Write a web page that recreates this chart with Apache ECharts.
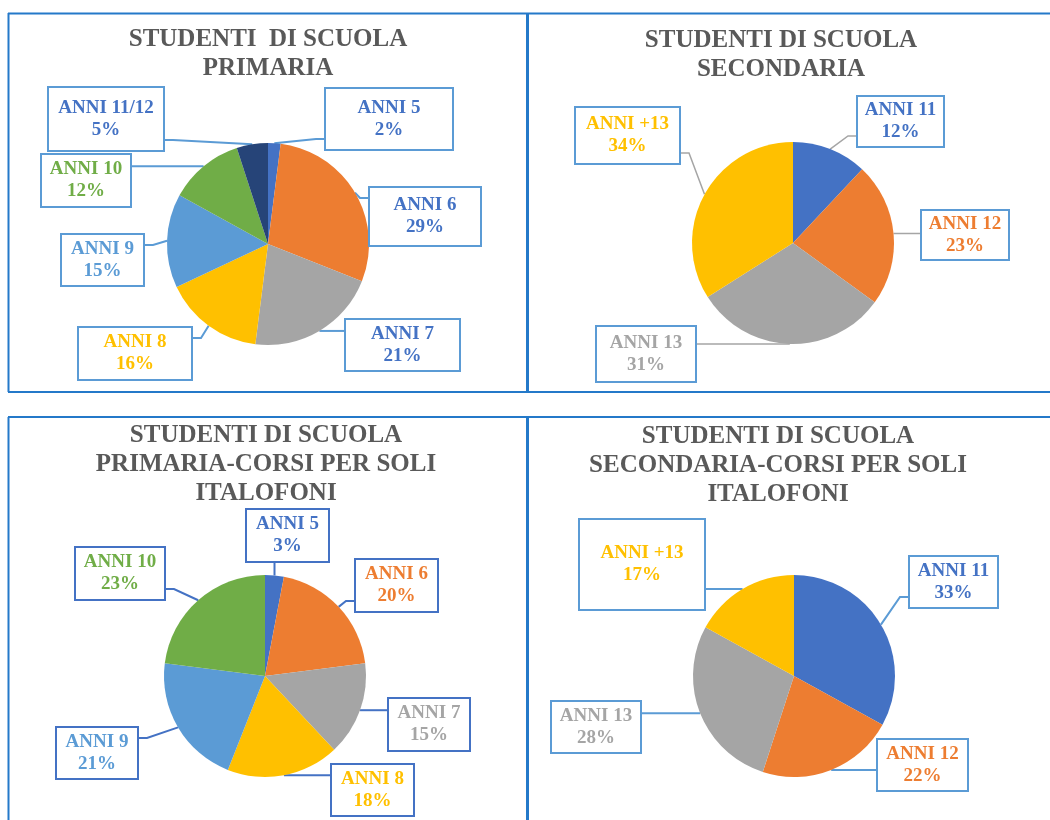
<!DOCTYPE html>
<html>
<head>
<meta charset="utf-8">
<title>Studenti di scuola</title>
<script src="https://cdn.jsdelivr.net/npm/echarts@6/dist/echarts.min.js"></script>
<style>
  html, body { margin: 0; padding: 0; background: #fff; }
  #main { width: 1050px; height: 820px; }
</style>
</head>
<body>
<div id="main"></div>
<script>
// dati (percentuali)
var primariaNomi = ['ANNI 5', 'ANNI 6', 'ANNI 7', 'ANNI 8', 'ANNI 9', 'ANNI 10', 'ANNI 11/12']
var primariaValori = [2, 29, 21, 16, 15, 12, 5]

var secondariaNomi = ['ANNI 11', 'ANNI 12', 'ANNI 13', 'ANNI +13']
var secondariaValori = [12, 23, 31, 34]

var primariaItaNomi = ['ANNI 5', 'ANNI 6', 'ANNI 7', 'ANNI 8', 'ANNI 9', 'ANNI 10']
var primariaItaValori = [3, 20, 15, 18, 21, 23]

var secondariaItaNomi = ['ANNI 11', 'ANNI 12', 'ANNI 13', 'ANNI +13']
var secondariaItaValori = [33, 22, 28, 17]

// colori
var coloriPrimaria = ['#4472C4', '#ED7D31', '#A5A5A5', '#FFC000', '#5B9BD5', '#70AD47', '#264478']
var coloriSecondaria = ['#4472C4', '#ED7D31', '#A5A5A5', '#FFC000']
var testoPrimaria = ['#4472C4', '#4472C4', '#4472C4', '#FFC000', '#5B9BD5', '#70AD47', '#4472C4']

// riquadri delle etichette [left, top, right, bottom]
var boxPrimaria = [[326, 89, 452, 149], [370, 188, 480, 245], [346, 320, 459, 370], [79, 328, 191, 379],
  [62, 235, 143, 285], [42, 155, 130, 206], [49, 88, 163, 150]]
var boxSecondaria = [[858, 97, 943, 146], [922, 211, 1008, 259], [597, 327, 695, 381], [576, 108, 679, 163]]
var boxPrimariaIta = [[247, 510, 328, 561], [356, 560, 437, 611], [389, 699, 469, 750], [332, 765, 413, 815],
  [57, 728, 137, 778], [76, 548, 164, 599]]
var boxSecondariaIta = [[910, 557, 997, 607], [878, 740, 967, 790], [552, 702, 640, 752], [580, 520, 704, 609]]

var FONT = 'Liberation Serif'
var LINE_H = 22

function buildData(nomi, valori, coloriTesto, boxes, bordo) {
  return nomi.map(function(n, i) {
    var b = boxes[i]
    var h = b[3] - b[1]
    var pad = Math.max(0, (h - 2 * LINE_H) / 2)
    return {
      name: n,
      value: valori[i],
      label: {
        color: coloriTesto[i],
        width: b[2] - b[0],
        padding: [pad, 0, pad, 0],
        borderColor: bordo
      }
    }
  })
}

function makeLayout(boxes) {
  return function(params) {
    var b = boxes[params.dataIndex]
    var out = {
      x: (b[0] + b[2]) / 2,
      y: (b[1] + b[3]) / 2,
      align: 'center',
      verticalAlign: 'middle'
    }
    var pts = params.labelLinePoints
    if (pts && pts.length) {
      var s = pts[0]
      var end, elbow
      if (s[0] < b[0]) {
        end = [b[0], Math.min(Math.max(s[1], b[1] + 10), b[3] - 10)]
        elbow = [b[0] - 10, end[1]]
      } else if (s[0] > b[2]) {
        end = [b[2], Math.min(Math.max(s[1], b[1] + 10), b[3] - 10)]
        elbow = [b[2] + 10, end[1]]
      } else if (s[1] < b[1]) {
        end = [Math.min(Math.max(s[0], b[0] + 10), b[2] - 10), b[1]]
        elbow = [end[0], b[1] - 8]
      } else {
        end = [Math.min(Math.max(s[0], b[0] + 10), b[2] - 10), b[3]]
        elbow = [end[0], b[3] + 8]
      }
      out.labelLinePoints = [s, elbow, end]
    }
    return out
  }
}

function pieSeries(center, data, colori, boxes, lineColor, lineWidth) {
  return {
    type: 'pie',
    center: center,
    radius: 101,
    startAngle: 90,
    clockwise: true,
    avoidLabelOverlap: false,
    color: colori,
    data: data,
    itemStyle: { borderWidth: 0 },
    label: {
      show: true,
      position: 'outside',
      formatter: function(p) { return p.name + '\n' + p.value + '%' },
      fontFamily: FONT,
      fontWeight: 'bold',
      fontSize: 19,
      lineHeight: LINE_H,
      backgroundColor: '#fff',
      borderWidth: 2
    },
    labelLine: {
      show: true,
      length: 10,
      length2: 10,
      lineStyle: { color: lineColor, width: lineWidth }
    },
    labelLayout: makeLayout(boxes),
    emphasis: { disabled: true },
    animation: false
  }
}

function titolo(testo, x, y) {
  return {
    text: testo,
    left: x,
    top: y,
    textAlign: 'center',
    padding: 0,
    textStyle: {
      fontFamily: FONT,
      fontWeight: 'bold',
      fontSize: 25,
      lineHeight: 29,
      color: '#595959'
    }
  }
}

var BORDER = '#2479C9'
function linea(x1, y1, x2, y2, w) {
  return {
    type: 'line',
    shape: { x1: x1, y1: y1, x2: x2, y2: y2 },
    style: { stroke: BORDER, lineWidth: w || 2 }
  }
}

var chart = echarts.init(document.getElementById('main'))
chart.setOption({
  backgroundColor: '#fff',
  title: [
    titolo('STUDENTI  DI SCUOLA\nPRIMARIA', 268, 25),
    titolo('STUDENTI DI SCUOLA\nSECONDARIA', 781, 26),
    titolo('STUDENTI DI SCUOLA\nPRIMARIA-CORSI PER SOLI\nITALOFONI', 266, 421),
    titolo('STUDENTI DI SCUOLA\nSECONDARIA-CORSI PER SOLI\nITALOFONI', 778, 422)
  ],
  graphic: [
    linea(8, 13.5, 1050, 13.5),
    linea(8, 392, 1050, 392),
    linea(8, 417, 1050, 417),
    linea(8.5, 13, 8.5, 392),
    linea(8.5, 417, 8.5, 820),
    linea(527.5, 13, 527.5, 392, 3),
    linea(527.5, 417, 527.5, 820, 3)
  ],
  series: [
    pieSeries([268, 244], buildData(primariaNomi, primariaValori, testoPrimaria, boxPrimaria, '#5B9BD5'),
      coloriPrimaria, boxPrimaria, '#5B9BD5', 2),
    pieSeries([793, 243], buildData(secondariaNomi, secondariaValori, coloriSecondaria, boxSecondaria, '#5B9BD5'),
      coloriSecondaria, boxSecondaria, '#A5A5A5', 1.5),
    pieSeries([265, 676], buildData(primariaItaNomi, primariaItaValori, coloriPrimaria, boxPrimariaIta, '#4472C4'),
      coloriPrimaria, boxPrimariaIta, '#4472C4', 2),
    pieSeries([794, 676], buildData(secondariaItaNomi, secondariaItaValori, coloriSecondaria, boxSecondariaIta, '#5B9BD5'),
      coloriSecondaria, boxSecondariaIta, '#5B9BD5', 2)
  ]
})
</script>
</body>
</html>
